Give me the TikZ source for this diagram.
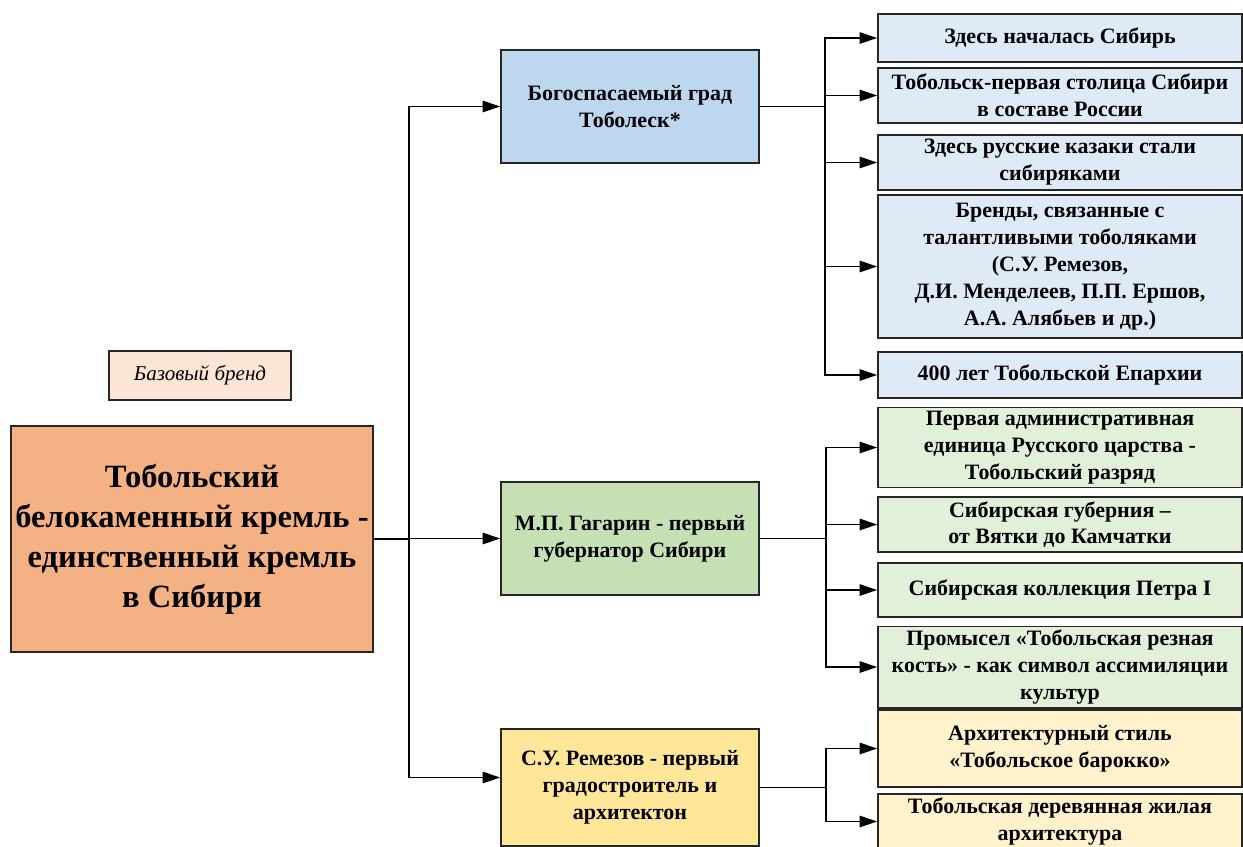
\documentclass[tikz,border=0pt]{standalone}
\usepackage{fontspec}
\setmainfont{Liberation Serif}
\usetikzlibrary{arrows.meta}
\definecolor{bazafill}{HTML}{FBE5D6}
\definecolor{kremlfill}{HTML}{F4B183}
\definecolor{midblue}{HTML}{BDD7EE}
\definecolor{midgreen}{HTML}{C5E0B4}
\definecolor{midyellow}{HTML}{FFE699}
\definecolor{subblue}{HTML}{DEEBF7}
\definecolor{subgreen}{HTML}{E2F0D9}
\definecolor{subyellow}{HTML}{FFF2CC}
\tikzset{
	box/.style={draw=black!85,line width=1pt,align=center,inner sep=2pt,font=\fontsize{12.5}{15.3}\selectfont\bfseries},
	mid/.style={box,minimum width=5.16cm,minimum height=2.26cm},
	sub/.style={box,minimum width=7.28cm},
	link/.style={line width=1pt},
	arr/.style={line width=1pt,-{Triangle[length=10pt,width=6.5pt]}}
}
\begin{document}
\begin{tikzpicture}[x=0.02cm,y=-0.02cm]
	\useasboundingbox(0,0)rectangle(1243,846);
	\node[box,fill=bazafill,minimum width=3.64cm,minimum height=0.98cm,font=\fontsize{12}{14}\selectfont\itshape](baza)at(200,375.5){Базовый бренд};
	\node[box,fill=kremlfill,minimum width=7.24cm,minimum height=4.52cm,font=\fontsize{18.5}{22.7}\selectfont\bfseries](kreml)at(192,539){Тобольский\\белокаменный кремль -\\единственный кремль\\в Сибири};
	\node[mid,fill=midblue](grad)at(630,106.5){Богоспасаемый град\\Тоболеск*};
	\node[mid,fill=midgreen](gagarin)at(630,538.5){М.П. Гагарин - первый\\губернатор Сибири};
	\node[mid,fill=midyellow,minimum height=2.34cm](remezov)at(630,787.5){С.У. Ремезов - первый\\градостроитель и\\архитектон};
	\node[sub,fill=subblue,minimum height=0.96cm](nachalo)at(1060,38){Здесь началась Сибирь};
	\node[sub,fill=subblue,minimum height=1.1cm](stolica)at(1060,95.5){Тобольск-первая столица Сибири\\в составе России};
	\node[sub,fill=subblue,minimum height=1.1cm](kazaki)at(1060,162.5){Здесь русские казаки стали\\сибиряками};
	\node[sub,fill=subblue,minimum height=2.86cm](brendy)at(1060,266.5){Бренды, связанные с\\талантливыми тоболяками\\(С.У. Ремезов,\\Д.И. Менделеев, П.П. Ершов,\\А.А. Алябьев и др.)};
	\node[sub,fill=subblue,minimum height=0.92cm](eparhiya)at(1060,375){400 лет Тобольской Епархии};
	\node[sub,fill=subgreen,minimum height=1.58cm](razryad)at(1060,447.5){Первая административная\\единица Русского царства -\\Тобольский разряд};
	\node[sub,fill=subgreen,minimum height=1.1cm](guberniya)at(1060,524.5){Сибирская губерния –\\от Вятки до Камчатки};
	\node[sub,fill=subgreen,minimum height=1.08cm](kollekciya)at(1060,590){Сибирская коллекция Петра I};
	\node[sub,fill=subgreen,minimum height=1.6cm](kost)at(1060,667){Промысел «Тобольская резная\\кость» - как символ ассимиляции\\культур};
	\node[sub,fill=subyellow,minimum height=1.54cm](barokko)at(1060,748.5){Архитектурный стиль\\«Тобольское барокко»};
	\node[sub,fill=subyellow,minimum height=1.06cm](derevo)at(1060,821.5){Тобольская деревянная жилая\\архитектура};
	\coordinate(stvol)at(409,539);
	\coordinate(vetvA)at(825,106.5);
	\coordinate(vetvB)at(826,538.5);
	\coordinate(vetvC)at(826,787.5);
	\draw[link](kreml.east)--(stvol);
	\draw[arr](stvol)|-(grad.west);
	\draw[arr](stvol)|-(gagarin.west);
	\draw[arr](stvol)|-([yshift=0.2cm]remezov.west);
	\draw[link](grad.east)--(vetvA);
	\draw[link](gagarin.east)--(vetvB);
	\draw[link](remezov.east)--(vetvC);
	\foreach \t in {nachalo,stolica,kazaki,brendy,eparhiya}
		\draw[arr](vetvA)|-(\t.west);
	\foreach \t in {razryad,guberniya,kollekciya,kost}
		\draw[arr](vetvB)|-(\t.west);
	\foreach \t in {barokko,derevo}
		\draw[arr](vetvC)|-(\t.west);
\end{tikzpicture}
\end{document}
